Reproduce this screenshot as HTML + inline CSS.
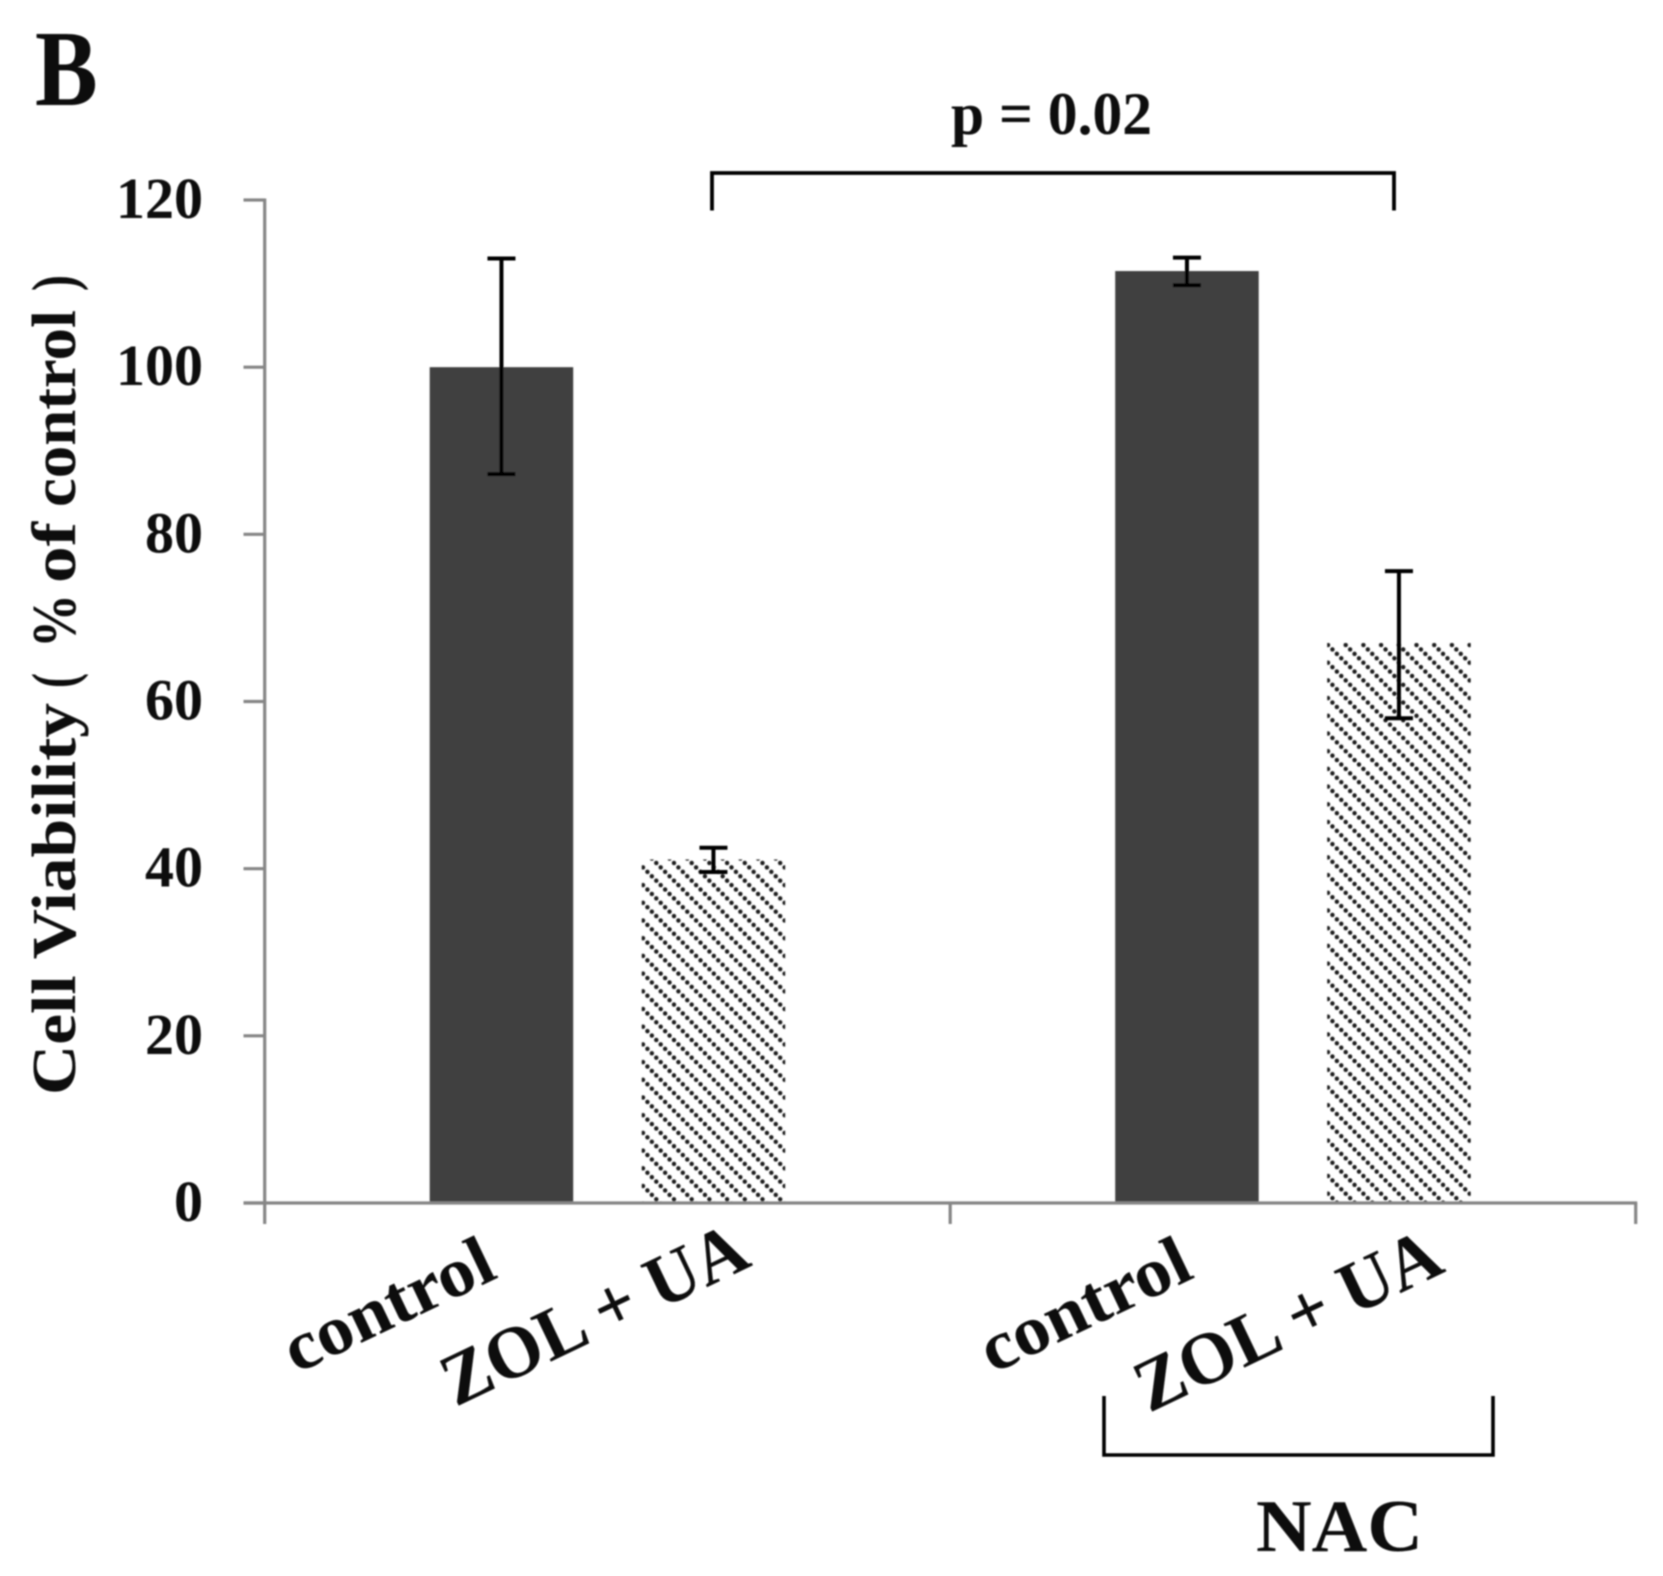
<!DOCTYPE html>
<html lang="en">
<head>
<meta charset="utf-8">
<title>Cell Viability Chart</title>
<style>
  html, body { margin: 0; padding: 0; background: #fff; }
  svg { display: block; }
  text { font-family: "Liberation Serif", serif; font-weight: bold; fill: #0a0a0a; }
</style>
</head>
<body>
<svg id="chart" xmlns="http://www.w3.org/2000/svg" width="1663" height="1576" viewBox="0 0 1663 1576">
  <defs>
    <filter id="soft" x="-2%" y="-2%" width="104%" height="104%"><feGaussianBlur stdDeviation="0.7"/></filter>
    <pattern id="hatch-a" patternUnits="userSpaceOnUse" x="643" y="1186" width="17.7" height="17.7">
      <circle cx="0" cy="0" r="2.2" fill="#1c1c1c"/><circle cx="17.7" cy="0" r="2.2" fill="#1c1c1c"/><circle cx="0" cy="17.7" r="2.2" fill="#1c1c1c"/><circle cx="17.7" cy="17.7" r="2.2" fill="#1c1c1c"/>
      <circle cx="4.425" cy="4.425" r="2.2" fill="#1c1c1c"/><circle cx="8.85" cy="8.85" r="2.2" fill="#1c1c1c"/><circle cx="13.275" cy="13.275" r="2.2" fill="#1c1c1c"/>
    </pattern>
    <pattern id="hatch-b" patternUnits="userSpaceOnUse" x="1328" y="645" width="17.7" height="17.7">
      <circle cx="0" cy="0" r="2.2" fill="#1c1c1c"/><circle cx="17.7" cy="0" r="2.2" fill="#1c1c1c"/><circle cx="0" cy="17.7" r="2.2" fill="#1c1c1c"/><circle cx="17.7" cy="17.7" r="2.2" fill="#1c1c1c"/>
      <circle cx="4.425" cy="4.425" r="2.2" fill="#1c1c1c"/><circle cx="8.85" cy="8.85" r="2.2" fill="#1c1c1c"/><circle cx="13.275" cy="13.275" r="2.2" fill="#1c1c1c"/>
    </pattern>
  </defs>
  <g id="root" filter="url(#soft)">
    <text transform="translate(35,105) scale(0.87,1)" font-size="108">B</text>
    <text transform="translate(75,1095) rotate(-90)" font-size="62"><tspan x="0" textLength="392" lengthAdjust="spacingAndGlyphs">Cell Viability</tspan> <tspan x="407" textLength="15" lengthAdjust="spacingAndGlyphs">(</tspan> <tspan x="447" textLength="54" lengthAdjust="spacingAndGlyphs">%</tspan> <tspan x="512" textLength="61" lengthAdjust="spacingAndGlyphs">of</tspan> <tspan x="588" textLength="197" lengthAdjust="spacingAndGlyphs">control</tspan> <tspan x="804" textLength="16" lengthAdjust="spacingAndGlyphs">)</tspan></text>
    <text x="951" y="134" font-size="60" textLength="201" lengthAdjust="spacingAndGlyphs">p = 0.02</text>
    <path d="M712 210.5V173H1394V210.5" fill="none" stroke="#000" stroke-width="3.8"/>
    <path d="M1104 1396V1455H1493V1396" fill="none" stroke="#000" stroke-width="3.6"/>
    <text x="1256" y="1551" font-size="74" textLength="167" lengthAdjust="spacingAndGlyphs">NAC</text>
  </g>
</svg>
<script>
var tickLabels = ["0", "20", "40", "60", "80", "100", "120"];
var categories = ["control", "ZOL + UA", "control", "ZOL + UA"];
var barValues = [100, 41.1, 111.5, 67];
var errorTop = [113, 42.5, 113.1, 75.6];
var errorBottom = [87.2, 39.6, 109.8, 58];

var NS = "http://www.w3.org/2000/svg";
var root = document.getElementById("root");
var AXIS_X = 264.7, AXIS_RIGHT = 1635.7, Y0 = 1203, Y120 = 200, YMAX = 120;
var BAR_W = 143.5, BAR_OFFSET = 106;
var GROUP_W = (AXIS_RIGHT - AXIS_X) / 2;

function yScale(v) { return Y0 - (v / YMAX) * (Y0 - Y120); }
function xScale(i) {
  var group = Math.floor(i / 2);
  var center = AXIS_X + GROUP_W * (group + 0.5);
  return center + (i % 2 === 0 ? -BAR_OFFSET : BAR_OFFSET);
}
function make(tag, attrs, parent) {
  var el = document.createElementNS(NS, tag);
  for (var k in attrs) { el.setAttribute(k, attrs[k]); }
  (parent || root).appendChild(el);
  return el;
}

// bars
categories.forEach(function (cat, i) {
  var cx = xScale(i), top = yScale(barValues[i]);
  var hatched = i % 2 === 1;
  var fill = hatched ? (i === 1 ? "url(#hatch-a)" : "url(#hatch-b)") : "#404040";
  var bar = make("rect", { x: cx - BAR_W / 2, y: top, width: BAR_W, height: Y0 - top, fill: fill });
  
  
  bar.setAttribute('data-category', cat);
});

// axes
var yAxisLine = make("line", { x1: AXIS_X, x2: AXIS_X, y1: Y120 - 1.5, y2: 1224, stroke: "#868686", "stroke-width": 3.2 });


var xAxisLine = make("line", { x1: 243.5, x2: AXIS_RIGHT + 1.5, y1: Y0, y2: Y0, stroke: "#868686", "stroke-width": 3.2 });



[1, 2].forEach(function (g) {
  var tx = AXIS_X + GROUP_W * g;
  var tick = make("line", { x1: tx, x2: tx, y1: Y0, y2: 1224, stroke: "#868686", "stroke-width": 3.2 });
  
  
});

tickLabels.forEach(function (label) {
  var y = yScale(Number(label));
  var tick = make("line", { x1: 243.5, x2: AXIS_X, y1: y, y2: y, stroke: "#868686", "stroke-width": 3.2 });
  
  
  var w = label.length * 29;
  var t = make("text", { x: 203 - w, y: y + 18, "font-size": 58, textLength: w, lengthAdjust: "spacingAndGlyphs" });
  t.textContent = label;
  
  
});

// error bars
categories.forEach(function (cat, i) {
  var cx = xScale(i), yT = yScale(errorTop[i]), yB = yScale(errorBottom[i]);
  var d = "M" + (cx - 14) + " " + yT + "H" + (cx + 14) + "M" + cx + " " + yT + "V" + yB + "M" + (cx - 14) + " " + yB + "H" + (cx + 14);
  var err = make("path", { d: d, fill: "none", stroke: "#000", "stroke-width": 4 });
  
  
});

// category labels
categories.forEach(function (cat, i) {
  var cx = xScale(i);
  var isZol = i % 2 === 1;
  var second = i >= 2;
  var ex = cx + (isZol ? (second ? 48 : 40) : (second ? 9 : -2));
  var ey = isZol ? (second ? 1271 : 1265) : 1277;
  var t = make("text", {
    transform: "translate(" + ex + "," + ey + ") rotate(-25.5)",
    "text-anchor": "end",
    "font-size": isZol ? 74 : 70,
    textLength: isZol ? 330 : 225,
    lengthAdjust: "spacingAndGlyphs"
  });
  t.textContent = cat;
  
  
});
</script>
</body>
</html>
